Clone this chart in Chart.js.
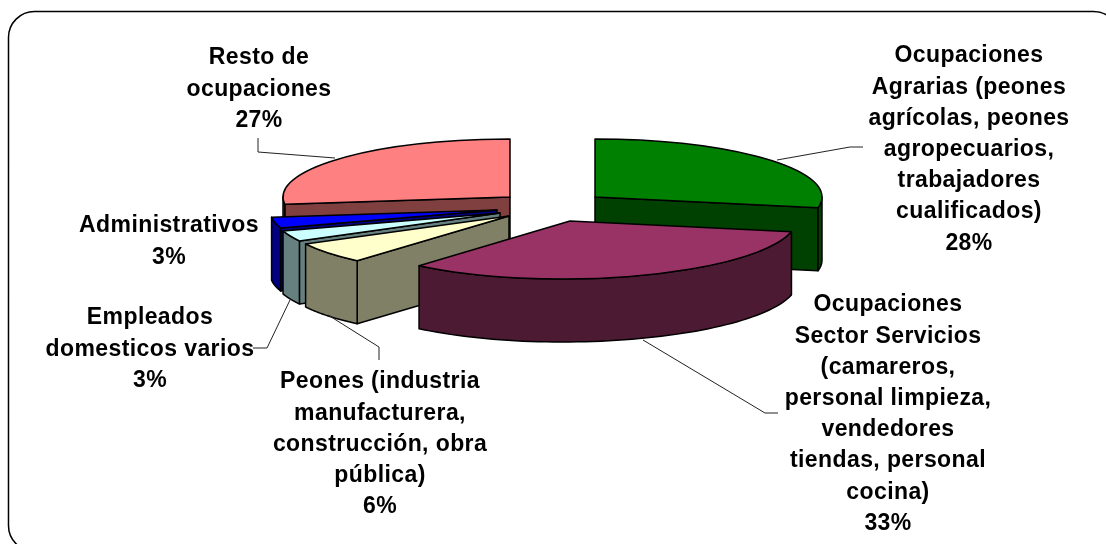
<!DOCTYPE html>
<html>
<head>
<meta charset="utf-8">
<style>
  html, body { margin: 0; padding: 0; background: #fff; overflow: hidden; }
  canvas { display: block; }
</style>
</head>
<body>
<canvas id="grafica" width="1106" height="544"></canvas>
<script src="https://cdn.jsdelivr.net/npm/chart.js@4/dist/chart.umd.min.js"></script>
<script>
// datos
const categorias = [
  ["Ocupaciones", "Agrarias (peones", "agrícolas, peones", "agropecuarios,", "trabajadores", "cualificados)"],
  ["Ocupaciones", "Sector Servicios", "(camareros,", "personal limpieza,", "vendedores", "tiendas, personal", "cocina)"],
  ["Peones (industria", "manufacturera,", "construcción, obra", "pública)"],
  ["Empleados", "domesticos varios"],
  ["Administrativos"],
  ["Resto de", "ocupaciones"]
];
const valores = [28, 33, 6, 3, 3, 27];

// estilo de cada porcion
const colorTapa = ["#008000", "#993366", "#FFFFCC", "#CCFFFF", "#0000FF", "#FF8080"];
const colorPared = ["#004000", "#4D1A33", "#808066", "#668080", "#000080", "#804040"];

// desplazamiento de cada porcion respecto al centro del canvas (pie explotado)
const despiezaX = [42, 17, -44, -53, -56, -43];
const despiezaY = [-75, -51, -56, -59, -62, -75];
const sesgo = [0, -0.14, -0.16, -0.06, -0.03, 0]; // perspectiva: lo de adelante se abre
const ordenDibujo = [5, 0, 4, 3, 2, 1]; // de atras hacia adelante

const radio = 227;
const achatado = 58 / 227;
const alto = 63;

// posicion de etiquetas (centro x, centro y de la primera linea)
const etiquetaX = [969, 888, 380, 150, 169, 259];
const etiquetaY = [56, 305, 382, 318, 226, 58];
const interlinea = 31.2;

// lineas guia
const guias = [
  [[863, 147], [850, 147], [777, 160]],
  [[778, 413], [765, 413], [643, 340]],
  [[379, 360], [379, 347], [328, 315]],
  [[253, 348], [267, 348], [290, 300]],
  null,
  [[258, 138], [258, 152], [335, 158]]
];

function pared(ctx, arco, i) {
  const x = arco.x + despiezaX[i];
  const y = arco.y + despiezaY[i];
  const ry = radio * achatado;
  const s = arco.startAngle, e = arco.endAngle;
  const bordeX = function (a) { return x + Math.cos(a) * radio + sesgo[i] * Math.sin(a) * ry; };
  const bordeY = function (a) { return y + Math.sin(a) * ry; };
  ctx.fillStyle = colorPared[i];
  ctx.strokeStyle = "#000";
  ctx.lineWidth = 1.5;
  ctx.lineJoin = "round";

  // caras de corte que miran al frente
  const cortes = [];
  if (Math.cos(s) < 0) cortes.push(s);
  if (Math.cos(e) > 0) cortes.push(e);
  cortes.forEach(function (a) {
    ctx.beginPath();
    ctx.moveTo(x, y);
    ctx.lineTo(bordeX(a), bordeY(a));
    ctx.lineTo(bordeX(a), bordeY(a) + alto);
    ctx.lineTo(x, y + alto);
    ctx.closePath();
    ctx.fill();
    ctx.stroke();
  });

  // borde exterior, solo la parte de adelante
  const a0 = Math.max(s, 0);
  const a1 = Math.min(e, Math.PI);
  if (a1 > a0) {
    const pasos = 60;
    ctx.beginPath();
    for (let k = 0; k <= pasos; k++) {
      const a = a0 + (a1 - a0) * k / pasos;
      ctx.lineTo(bordeX(a), bordeY(a));
    }
    for (let k = pasos; k >= 0; k--) {
      const a = a0 + (a1 - a0) * k / pasos;
      ctx.lineTo(bordeX(a), bordeY(a) + alto);
    }
    ctx.closePath();
    ctx.fill();
    ctx.stroke();
  }
}

function tapa(ctx, arco, i) {
  ctx.save();
  ctx.translate(arco.x + despiezaX[i], arco.y + despiezaY[i]);
  ctx.transform(1, 0, sesgo[i], 1, 0, 0);
  ctx.scale(1, achatado);
  ctx.translate(-arco.x, -arco.y);
  arco.draw(ctx);
  ctx.beginPath();
  ctx.moveTo(arco.x, arco.y);
  ctx.arc(arco.x, arco.y, arco.outerRadius, arco.startAngle, arco.endAngle);
  ctx.closePath();
  ctx.restore();
  ctx.strokeStyle = "#000";
  ctx.lineWidth = 1.5;
  ctx.lineJoin = "round";
  ctx.stroke();
}

const pie3d = {
  id: "pie3d",
  beforeDraw(chart) {
    const ctx = chart.ctx;
    ctx.save();
    ctx.fillStyle = "#fff";
    ctx.fillRect(0, 0, chart.width, chart.height);
    ctx.strokeStyle = "#000";
    ctx.lineWidth = 1.5;
    ctx.beginPath();
    ctx.roundRect(8.5, 11.5, 1111, 540, 26);
    ctx.stroke();
    ctx.restore();
  },
  beforeDatasetsDraw(chart) {
    const ctx = chart.ctx;
    const arcos = chart.getDatasetMeta(0).data;
    ordenDibujo.forEach(function (i) {
      pared(ctx, arcos[i], i);
      tapa(ctx, arcos[i], i);
    });
    return false;
  },
  afterDraw(chart) {
    const ctx = chart.ctx;
    const total = valores.reduce(function (a, b) { return a + b; }, 0);
    ctx.save();
    ctx.strokeStyle = "#222";
    ctx.lineWidth = 1;
    guias.forEach(function (g) {
      if (!g) return;
      ctx.beginPath();
      g.forEach(function (p, k) {
        if (k === 0) ctx.moveTo(p[0], p[1]); else ctx.lineTo(p[0], p[1]);
      });
      ctx.stroke();
    });
    ctx.fillStyle = "#000";
    ctx.font = "bold 23px 'Liberation Sans'";
    ctx.letterSpacing = "0.4px";
    ctx.textAlign = "center";
    ctx.textBaseline = "middle";
    categorias.forEach(function (lineas, i) {
      const todas = lineas.concat([Math.round(valores[i] / total * 100) + "%"]);
      todas.forEach(function (t, k) {
        ctx.fillText(t, etiquetaX[i], etiquetaY[i] + k * interlinea);
      });
    });
    ctx.restore();
  }
};

new Chart(document.getElementById("grafica").getContext("2d"), {
  type: "pie",
  data: {
    labels: categorias.map(function (c) { return c.join(" "); }),
    datasets: [{
      data: valores,
      backgroundColor: colorTapa,
      borderWidth: 0
    }]
  },
  options: {
    responsive: false,
    animation: false,
    radius: radio,
    plugins: {
      legend: { display: false },
      tooltip: { enabled: false }
    }
  },
  plugins: [pie3d]
});
</script>
</body>
</html>
